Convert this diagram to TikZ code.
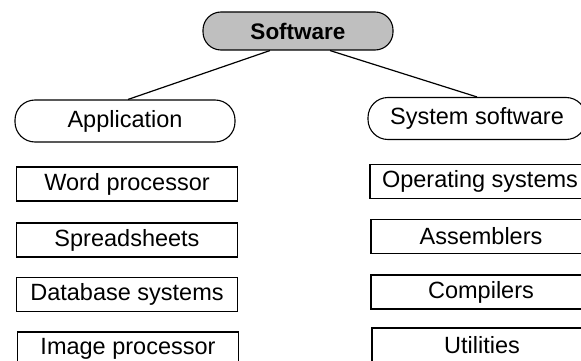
\documentclass[tikz,border=0pt]{standalone}
\usepackage{fontspec}
\setmainfont{Liberation Sans}
\usetikzlibrary{calc}
\begin{document}
\begin{tikzpicture}[x=1pt,y=-1pt,
  every node/.style={inner sep=0pt, font=\fontsize{23.5}{27}\selectfont},
  capsule/.style={draw, line width=1.1pt, rounded corners=20pt, minimum width=220pt, minimum height=42pt},
  topcap/.style={draw, line width=1.1pt, rounded corners=18pt, fill=black!25, minimum width=190pt, minimum height=38pt, font=\fontsize{22.5}{26}\selectfont\bfseries},
  itembox/.style={draw, line width=1.1pt, minimum width=221pt, minimum height=34pt},
  link/.style={line width=1.2pt}]
\useasboundingbox (0,0) rectangle (581,361);
\clip (0,0) rectangle (581,361);
\node[topcap] (sw) at (298,31) {Software};
\node[capsule] (app) at (125,121) {Application};
\node[capsule, minimum width=218pt] (sys) at (477,118.5) {System software};
\draw[link] ($(sw.south)+(-28,0)$) -- ($(app.north)+(3,0)$);
\draw[link] ($(sw.south)+(32,0)$) -- (sys.north);
\node[itembox] (wp) at (127,184) {Word processor};
\node[itembox] (ss) at (127,240) {Spreadsheets};
\node[itembox] (db) at (127,294.5) {Database systems};
\node[itembox] (ip) at (128,349) {Image processor};
\node[itembox, minimum width=220pt] (os) at (480,181.5) {Operating systems};
\node[itembox, minimum width=220pt] (as) at (481,236.5) {Assemblers};
\node[itembox, minimum width=220pt] (co) at (481,292) {Compilers};
\node[itembox, minimum width=220pt] (ut) at (482,345) {Utilities};
\end{tikzpicture}
\end{document}
